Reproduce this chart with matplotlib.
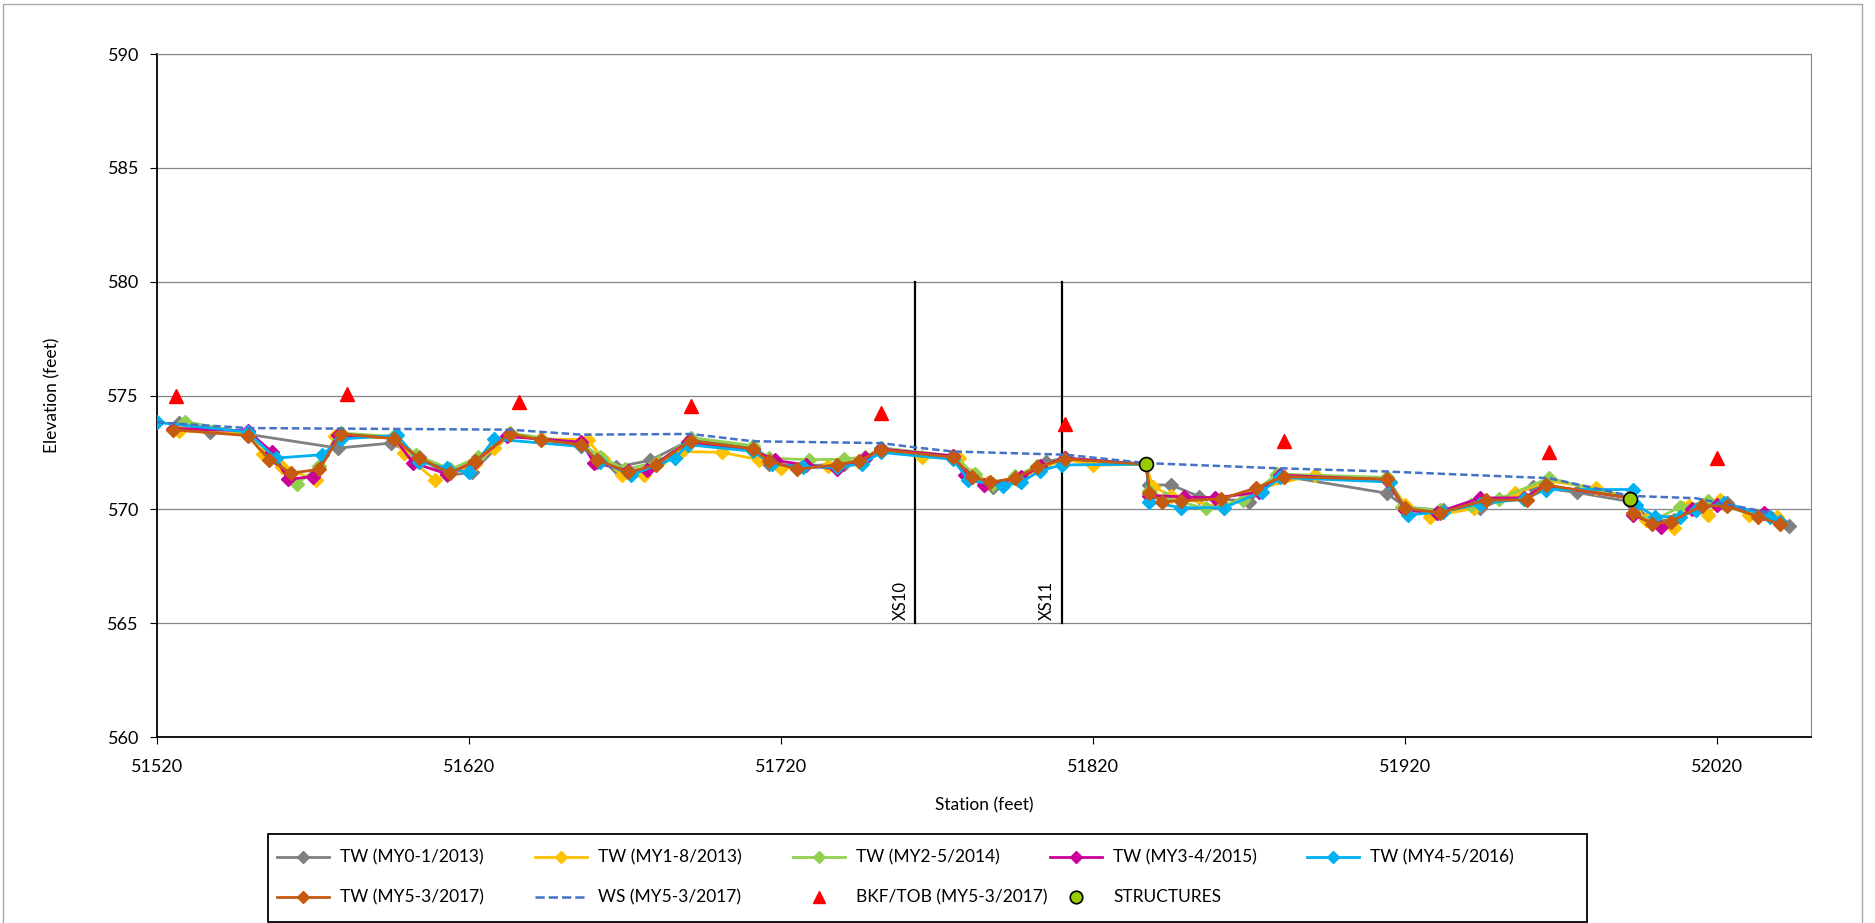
import matplotlib
matplotlib.use("Agg")
import matplotlib.pyplot as plt
from matplotlib.patches import Rectangle
from matplotlib.lines import Line2D

plt.rcParams['font.family'] = ['Lato', 'DejaVu Sans']

# thalweg surveys (station, elevation)
x0 = [51527, 51537, 51549, 51578, 51595, 51604, 51613, 51621, 51633, 51643, 51656, 51661, 51667, 51678, 51691,
      51711, 51716, 51727, 51740, 51747, 51752, 51775, 51781, 51788, 51796, 51805, 51811, 51820, 51837, 51838,
      51845, 51854, 51870, 51879, 51914, 51920, 51932, 51944, 51961, 51975, 51992, 51999, 52006, 52015, 52023,
      52033, 52043]
y0 = [573.79, 573.38, 573.30, 572.69, 572.91, 572.30, 571.50, 571.62, 573.30, 573.10, 572.85, 572.10, 571.85, 572.15, 573.05,
      572.70, 572.00, 571.90, 572.00, 572.20, 572.70, 572.30, 571.40, 571.00, 571.30, 572.10, 572.25, 572.00, 571.98, 571.07,
      571.07, 570.56, 570.34, 571.50, 570.71, 570.10, 569.95, 570.04, 571.00, 570.74, 570.34, 569.50, 569.55, 570.20, 570.30,
      569.70, 569.28]

x1 = [51527, 51549, 51554, 51560, 51571, 51577, 51596, 51599, 51609, 51622, 51628, 51633, 51643, 51658, 51663,
      51669, 51676, 51680, 51688, 51701, 51713, 51720, 51735, 51745, 51752, 51765, 51777, 51781, 51786, 51796,
      51803, 51811, 51820, 51837, 51839, 51845, 51862, 51872, 51891, 51915, 51920, 51928, 51942, 51955, 51966,
      51981, 51992, 51997, 52006, 52009, 52011, 52017, 52021, 52030, 52039]
y1 = [573.45, 573.30, 572.44, 571.85, 571.29, 573.20, 573.15, 572.47, 571.29, 572.00, 572.69, 573.25, 573.09, 573.06, 572.20,
      571.51, 571.51, 572.00, 572.54, 572.50, 572.18, 571.81, 571.90, 572.10, 572.60, 572.32, 572.25, 571.50, 571.15, 571.30,
      571.80, 572.20, 571.94, 571.98, 571.00, 570.60, 570.04, 570.90, 571.51, 571.20, 570.20, 569.68, 570.04, 570.70, 571.25,
      570.94, 570.50, 569.53, 569.16, 570.04, 570.15, 569.75, 570.40, 569.75, 569.65]

x2 = [51529, 51549, 51557, 51565, 51572, 51579, 51596, 51603, 51614, 51623, 51633, 51656, 51662, 51670, 51681,
      51691, 51711, 51716, 51729, 51740, 51747, 51752, 51775, 51782, 51788, 51795, 51802, 51811, 51837, 51838,
      51843, 51856, 51868, 51879, 51914, 51919, 51931, 51941, 51950, 51966, 51992, 51993, 52000, 52008, 52017,
      52033, 52040]
y2 = [573.85, 573.35, 572.35, 571.12, 571.90, 573.35, 573.20, 572.40, 571.75, 572.30, 573.35, 572.90, 572.30, 571.75, 572.10,
      573.15, 572.80, 572.25, 572.18, 572.20, 572.30, 572.70, 572.35, 571.55, 571.10, 571.45, 571.90, 572.25, 571.98, 570.80,
      570.50, 570.04, 570.40, 571.55, 571.40, 570.10, 569.95, 570.20, 570.45, 571.37, 570.50, 569.80, 569.55, 570.10, 570.35,
      569.70, 569.45]

x3 = [51525, 51549, 51557, 51562, 51570, 51578, 51596, 51602, 51613, 51622, 51632, 51656, 51660, 51671, 51677,
      51690, 51711, 51718, 51728, 51738, 51747, 51752, 51775, 51779, 51785, 51797, 51803, 51811, 51837, 51838,
      51849, 51859, 51873, 51880, 51914, 51920, 51930, 51944, 51958, 51965, 51992, 51993, 52002, 52012, 52020,
      52035, 52040]
y3 = [573.55, 573.45, 572.50, 571.32, 571.44, 573.25, 573.15, 572.05, 571.55, 572.10, 573.20, 572.95, 572.05, 571.70, 571.74,
      572.95, 572.60, 572.15, 571.95, 571.76, 572.25, 572.65, 572.35, 571.50, 571.05, 571.40, 571.90, 572.25, 571.98, 570.60,
      570.55, 570.50, 570.75, 571.50, 571.30, 569.95, 569.85, 570.50, 570.50, 571.05, 570.50, 569.75, 569.24, 570.00, 570.20,
      569.85, 569.45]

x4 = [51520, 51549, 51558, 51573, 51579, 51597, 51604, 51613, 51620, 51628, 51656, 51662, 51672, 51686, 51690,
      51711, 51717, 51727, 51738, 51746, 51752, 51775, 51780, 51791, 51797, 51803, 51810, 51837, 51838, 51848,
      51862, 51874, 51880, 51915, 51921, 51932, 51944, 51958, 51965, 51993, 51994, 52000, 52008, 52013, 52022,
      52037, 52040]
y4 = [573.82, 573.40, 572.25, 572.40, 573.09, 573.25, 572.10, 571.80, 571.62, 573.09, 572.76, 572.10, 571.51, 572.25, 572.84,
      572.55, 572.00, 571.85, 571.85, 572.00, 572.50, 572.20, 571.29, 571.03, 571.20, 571.70, 571.95, 571.98, 570.34, 570.07,
      570.07, 570.78, 571.40, 571.20, 569.75, 569.90, 570.25, 570.45, 570.87, 570.87, 570.20, 569.68, 569.68, 569.95, 570.30,
      569.68, 569.45]

x5 = [51525, 51549, 51556, 51563, 51572, 51579, 51596, 51604, 51614, 51622, 51633, 51643, 51656, 51661, 51671,
      51680, 51691, 51711, 51716, 51725, 51738, 51745, 51752, 51775, 51781, 51787, 51795, 51802, 51811, 51837,
      51838, 51842, 51848, 51861, 51872, 51881, 51914, 51920, 51931, 51946, 51959, 51965, 51992, 51993, 51999,
      52005, 52015, 52023, 52033, 52040]
y5 = [573.50, 573.24, 572.18, 571.59, 571.76, 573.32, 573.10, 572.25, 571.59, 572.13, 573.32, 573.05, 572.84, 572.18, 571.62,
      571.96, 573.01, 572.66, 572.13, 571.76, 571.96, 572.13, 572.62, 572.29, 571.44, 571.19, 571.37, 571.85, 572.21, 571.98,
      570.71, 570.34, 570.38, 570.46, 570.93, 571.44, 571.32, 570.04, 569.85, 570.41, 570.41, 571.07, 570.50, 569.85, 569.35,
      569.46, 570.15, 570.15, 569.68, 569.35]

# water surface
ws_x = [51520, 51549, 51633, 51656, 51691, 51711, 51752, 51763, 51775, 51811, 51837, 51878, 51914, 51966, 51992, 52013, 52038]
ws_y = [573.82, 573.57, 573.50, 573.28, 573.31, 572.99, 572.91, 572.72, 572.54, 572.40, 572.03, 571.81, 571.66, 571.37, 570.59, 570.49, 569.82]

# bankfull / top of bank
bkf_x = [51526, 51581, 51636, 51691, 51752, 51811, 51881, 51966, 52020]
bkf_y = [575.00, 575.08, 574.70, 574.55, 574.22, 573.77, 572.98, 572.50, 572.24]

# structures
st_x = [51837, 51992]
st_y = [572.00, 570.45]

# cross sections
xs_names = ['XS10', 'XS11']
xs_sta = [51763, 51810]

tw_labels = ['TW (MY0-1/2013)', 'TW (MY1-8/2013)', 'TW (MY2-5/2014)', 'TW (MY3-4/2015)', 'TW (MY4-5/2016)', 'TW (MY5-3/2017)']
tw_colors = ['#808080', '#FFC000', '#92D050', '#CC0099', '#00B0F0', '#C55A11']
tw_x = [x0, x1, x2, x3, x4, x5]
tw_y = [y0, y1, y2, y3, y4, y5]

W, H = 1875, 923
fig = plt.figure(figsize=(W / 100, H / 100), dpi=100)
ax = fig.add_axes([157/W, 1-737/H, (1811-157)/W, (737-54)/H])

handles = []
for xs, ys, c, lab in zip(tw_x, tw_y, tw_colors, tw_labels):
    h, = ax.plot(xs, ys, color=c, lw=2.0, marker='D', ms=6.8, mec=c, mfc=c, label=lab, zorder=3)
    handles.append(h)

h_ws, = ax.plot(ws_x, ws_y, color='#4472C4', lw=1.8, ls=(0, (3, 1.5)), label='WS (MY5-3/2017)', zorder=4)
h_bkf, = ax.plot(bkf_x, bkf_y, ls='none', marker='^', ms=9.5, color='#FF0000', label='BKF/TOB (MY5-3/2017)', zorder=5)
h_st, = ax.plot(st_x, st_y, ls='none', marker='o', ms=10, mfc='#99CC00', mec='black', mew=1.2,
                label='STRUCTURES', zorder=6)

for name, s in zip(xs_names, xs_sta):
    ax.plot([s, s], [565, 580], color='black', lw=1.6, zorder=2)
    ax.annotate(name, xy=(s, 565), xytext=(-5, 2), textcoords='offset points',
                rotation=90, ha='right', va='bottom', fontsize=12)

ax.set_xlim(51520, 52050)
ax.set_ylim(560, 590)
ax.set_xticks(range(51520, 52050, 100))
ax.set_yticks(range(560, 591, 5))
ax.yaxis.grid(True, color='#868686', lw=0.9)
ax.set_axisbelow(True)
ax.spines['top'].set_color('#868686')
ax.spines['right'].set_color('#868686')
ax.spines['left'].set_linewidth(1.3)
ax.spines['bottom'].set_linewidth(1.3)
ax.tick_params(axis='x', length=5, pad=11, labelsize=13)
ax.tick_params(axis='y', length=5, pad=8, labelsize=13)
ax.set_xlabel('Station (feet)', fontsize=12.5, labelpad=16)
ax.set_ylabel('Elevation (feet)', fontsize=12.5, labelpad=34)

# legend laid out like the spreadsheet one: equal-width columns, row by row
entries = handles[:5] + [handles[5], h_ws, h_bkf, h_st]
col_x = [277, 535, 793, 1050, 1307]
row_y = [857, 897]
hlen = 52
for i, h in enumerate(entries):
    cx = col_x[i % 5]
    ry = 1 - row_y[i // 5] / H
    if h.get_linestyle() != 'None':
        fig.add_artist(Line2D([cx / W, (cx + hlen) / W], [ry, ry], transform=fig.transFigure,
                              color=h.get_color(), lw=h.get_linewidth(), ls=h.get_linestyle()))
    if h.get_marker() not in (None, 'None', ''):
        fig.add_artist(Line2D([(cx + hlen / 2) / W], [ry], transform=fig.transFigure, ls='none',
                              marker=h.get_marker(), ms=h.get_markersize() * 0.9,
                              mfc=h.get_markerfacecolor(), mec=h.get_markeredgecolor(),
                              mew=h.get_markeredgewidth()))
    fig.text((cx + hlen + 11) / W, ry, h.get_label(), ha='left', va='center', fontsize=12.5)

fig.patches.append(Rectangle((268/W, 1-922/H), (1587-268)/W, (922-834)/H, transform=fig.transFigure,
                             fill=False, edgecolor='black', lw=1.3))

fig.patches.append(Rectangle((3/W, -0.02), (1862-3)/W, 1-4/H+0.02, transform=fig.transFigure,
                             fill=False, edgecolor='#A6A6A6', lw=1.0))

fig.savefig('out.png', dpi=100)
